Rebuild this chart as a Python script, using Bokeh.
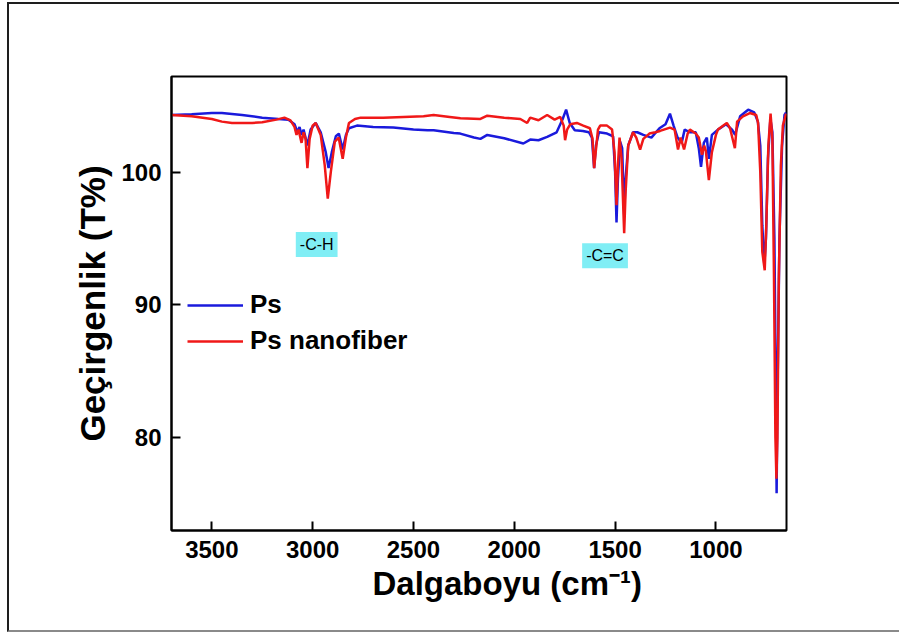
from bokeh.plotting import figure
from bokeh.models import Range1d, FixedTicker, Label, Legend, LegendItem, Title
from bokeh.embed import file_html
from bokeh.resources import INLINE

# ---- data ----
ps_wn = [3700, 3600, 3500, 3450, 3350, 3250, 3170, 3120, 3090, 3075, 3065, 3055, 3045, 3026, 3010,
         2985, 2960, 2935, 2921, 2905, 2885, 2870, 2851, 2835, 2820, 2780, 2700, 2600, 2500, 2430,
         2400, 2300, 2268, 2200, 2168, 2134, 2050, 1955, 1921, 1880, 1837, 1790, 1760, 1743, 1725,
         1700, 1660, 1630, 1615, 1604, 1595, 1580, 1540, 1510, 1500, 1493, 1486, 1475, 1465, 1455,
         1448, 1435, 1411, 1390, 1360, 1320, 1280, 1250, 1228, 1210, 1190, 1170, 1155, 1130, 1100,
         1085, 1074, 1060, 1045, 1035, 1020, 990, 950, 920, 905, 880, 840, 810, 792, 780,
         770, 760, 752, 742, 730, 720, 710, 703, 699, 695, 685, 672, 660, 652]
ps_t = [104.3, 104.35, 104.45, 104.45, 104.3, 104.1, 104.0, 103.95, 103.6, 103.0, 103.4, 102.8, 103.2, 102.0, 103.2,
        103.7, 103.0, 101.5, 100.3, 101.5, 102.7, 102.9, 101.7, 102.8, 103.3, 103.5, 103.4, 103.35, 103.2, 103.15,
        103.15, 102.95, 102.9, 102.6, 102.5, 102.8, 102.55, 102.15, 102.45, 102.4, 102.65, 103.0, 104.0, 104.7, 103.7,
        103.15, 103.1, 103.0, 102.6, 100.3, 102.0, 103.0, 102.9, 102.7, 100.0, 96.2, 99.5, 102.3, 101.8, 96.8,
        99.5, 102.0, 103.0, 103.0, 102.8, 102.6, 103.3, 103.6, 104.4, 103.5, 102.6, 102.2, 103.2, 103.0, 103.0,
        101.8, 100.4, 102.2, 102.6, 101.0, 102.8, 103.2, 103.6, 103.2, 102.8, 104.2, 104.7, 104.5, 103.8, 102.0,
        96.0, 93.0, 95.0, 101.0, 104.0, 103.0, 95.0, 84.0, 75.8, 83.0, 95.0, 102.0, 104.3, 104.5]

nf_wn = [3700, 3600, 3500, 3450, 3400, 3300, 3250, 3180, 3140, 3110, 3090, 3080, 3070, 3055, 3045,
         3035, 3026, 3015, 3000, 2985, 2960, 2940, 2925, 2910, 2890, 2871, 2851, 2835, 2820, 2790,
         2762, 2650, 2550, 2450, 2400, 2320, 2267, 2168, 2134, 2050, 1970, 1936, 1921, 1880, 1837,
         1800, 1772, 1755, 1748, 1738, 1723, 1690, 1658, 1625, 1612, 1604, 1595, 1585, 1574, 1540,
         1515, 1503, 1493, 1486, 1478, 1468, 1455, 1448, 1435, 1411, 1395, 1376, 1360, 1330, 1300,
         1277, 1228, 1205, 1188, 1175, 1158, 1140, 1129, 1100, 1085, 1069, 1058, 1050, 1035, 1020,
         1000, 990, 946, 930, 906, 895, 866, 832, 800, 791, 780, 770, 758, 750, 740,
         729, 720, 712, 705, 700, 695, 688, 678, 668, 652]
nf_t = [104.3, 104.2, 104.0, 103.8, 103.7, 103.7, 103.75, 103.95, 104.1, 103.9, 103.4, 102.8, 103.2, 102.2, 103.0,
        102.5, 100.3, 102.5, 103.5, 103.7, 102.8, 100.5, 98.0, 100.0, 102.3, 102.6, 101.0, 102.6, 103.7, 104.0,
        104.1, 104.1, 104.15, 104.2, 104.3, 104.15, 104.05, 104.0, 104.25, 104.1, 104.0, 103.7, 104.1, 103.9, 104.3,
        103.95, 104.15, 103.5, 102.4, 103.2, 103.6, 103.7, 103.5, 103.3, 102.5, 100.3, 101.7, 103.2, 103.5, 103.5,
        103.2, 101.5, 97.5, 100.5, 102.6, 101.0, 95.4, 98.5, 102.0, 103.0, 102.6, 101.7, 102.5, 102.9, 103.0,
        103.1, 103.35, 103.2, 101.7, 102.6, 101.7, 102.9, 103.2, 102.9, 102.6, 101.3, 102.0, 101.6, 99.4, 101.5,
        102.8, 103.2, 103.7, 103.3, 101.8, 103.8, 104.2, 104.45, 104.3, 103.7, 100.0, 94.0, 92.6, 96.0, 102.0,
        104.4, 102.5, 92.0, 80.0, 76.9, 80.0, 92.0, 100.5, 103.5, 104.4]

series_names = ["Ps", "Ps nanofiber"]
x_ticks = [1000, 1500, 2000, 2500, 3000, 3500]
y_ticks = [80, 90, 100]
x_title = "Dalgaboyu (cm\u207b\u00b9)"
y_title = "Geçirgenlik (T%)"
annotations = ["-C-H", "-C=C"]
ann_x = [2980, 1550]
ann_y = [94.55, 93.7]

FONT = "Liberation Sans"

# outer picture frame (left/top/bottom edges) drawn with CSS borders
OFF_L, OFF_T = 9, 4
p = figure(width=892, height=630, output_backend="svg", toolbar_location=None,
           x_range=Range1d(3700, 650), y_range=Range1d(73.0, 107.2),
           min_border_left=171 - OFF_L, min_border_right=892 - (786 - OFF_L),
           min_border_top=76 - OFF_T, min_border_bottom=630 - (530 - OFF_T))
p.styles = {"margin-left": "7px", "margin-top": "2px",
            "border-left": "2px solid #1e1e1e", "border-top": "2px solid #1e1e1e",
            "border-bottom": "2px solid #8a8a8a"}
p.background_fill_color = "white"
p.border_fill_color = "white"
p.grid.visible = False
p.outline_line_color = "black"
p.outline_line_width = 2

for ax, ticks in ((p.xaxis[0], x_ticks), (p.yaxis[0], y_ticks)):
    ax.ticker = FixedTicker(ticks=ticks)
    ax.axis_line_width = 2
    ax.axis_line_color = "black"
    ax.major_tick_line_width = 2
    ax.major_tick_in = 9
    ax.major_tick_out = 0
    ax.minor_tick_line_color = None
    ax.major_label_text_font = FONT
    ax.major_label_text_font_style = "bold"
    ax.major_label_text_font_size = "24px"
    ax.major_label_text_color = "black"
    ax.axis_label_text_font = FONT
    ax.axis_label_text_font_style = "bold"
    ax.axis_label_text_color = "black"

p.yaxis[0].axis_label = y_title
p.yaxis[0].axis_label_text_font_size = "35px"
p.xaxis[0].major_label_standoff = 10
p.yaxis[0].major_label_standoff = 10
p.yaxis[0].axis_label_standoff = 6

# x-axis title, placed a little right of centre as in the original
p.add_layout(Title(text=x_title, align="left", offset=201, standoff=4,
                   text_font=FONT, text_font_style="bold", text_font_size="33px",
                   text_color="black"), "below")

r1 = p.line(ps_wn, ps_t, line_color="#1a1adc", line_width=2.5)
r2 = p.line(nf_wn, nf_t, line_color="#f01818", line_width=2.5)

legend = Legend(items=[LegendItem(label=series_names[0], renderers=[r1]),
                       LegendItem(label=series_names[1], renderers=[r2])],
                location=(16, 174), padding=0, margin=0, spacing=5,
                glyph_width=56, glyph_height=28, label_height=28, label_standoff=7,
                border_line_color=None, background_fill_alpha=0,
                label_text_font=FONT, label_text_font_style="bold",
                label_text_font_size="26px", label_text_color="black")
p.add_layout(legend)

for txt, ax_, ay_ in zip(annotations, ann_x, ann_y):
    p.add_layout(Label(x=ax_, y=ay_, text=txt, text_align="center", text_baseline="middle",
                       text_font=FONT, text_font_size="16px", text_color="black",
                       background_fill_color="#80eef5", padding=4))

open("out.html", "w").write(file_html(p, INLINE))
